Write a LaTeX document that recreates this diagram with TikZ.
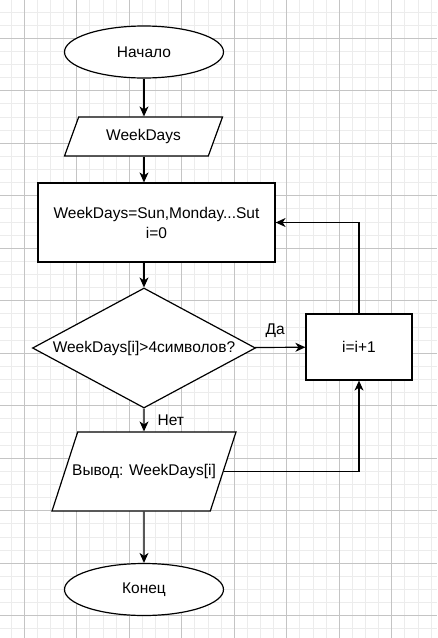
\documentclass[tikz,border=0pt]{standalone}
\usepackage{fontspec}
\setmainfont{Liberation Sans}
\usetikzlibrary{shapes.geometric,arrows.meta}

\definecolor{gridmajor}{RGB}{196,196,196}
\definecolor{gridminor}{RGB}{236,236,236}

\tikzset{
  term/.style={draw, ellipse, line width=1.2pt, fill=white, inner sep=0pt,
    minimum width=159pt, minimum height=52pt},
  io/.style={draw, trapezium, trapezium left angle=70, trapezium right angle=110,
    trapezium stretches body=true, line width=1.2pt, fill=white, inner xsep=0pt,
    text height=11pt, text depth=3pt},
  procbox/.style={draw, rectangle, line width=1.2pt, fill=white, inner sep=0pt, align=center},
  cond/.style={draw, diamond, aspect=1.86, line width=1.2pt, fill=white, inner sep=0pt,
    minimum width=223pt, minimum height=120pt},
  lbl/.style={inner sep=0pt},
  flow/.style={line width=1.2pt, -{Stealth[length=10pt,width=9pt,inset=3pt]}}
}

\begin{document}
\begin{tikzpicture}[x=1pt,y=-1pt,font=\fontsize{15.5}{20}\selectfont]
  \useasboundingbox[fill=white] (0,0) rectangle (437,638);
  % background grid
  \foreach \k in {-1,...,32}
    \draw[gridminor, line width=1pt] (24.3+13.125*\k,0) -- (24.3+13.125*\k,638);
  \foreach \k in {-3,...,46}
    \draw[gridminor, line width=1pt] (0,38.3+13.125*\k) -- (437,38.3+13.125*\k);
  \foreach \k in {0,...,7}
    \draw[gridmajor, line width=1pt] (24.3+52.5*\k,0) -- (24.3+52.5*\k,638);
  \foreach \k in {0,...,11}
    \draw[gridmajor, line width=1pt] (0,38.3+52.5*\k) -- (437,38.3+52.5*\k);

  \node[term] (start) at (144,52) {Начало};
  \node[io, inner ysep=12.5pt, minimum width=158pt] (inp) at (143.5,136.5) {WeekDays};
  \node[procbox, minimum width=237pt, minimum height=79pt] (init) at (156.5,222.5)
    {WeekDays=Sun,Monday...Sut\\i=0};
  \node[cond] (check) at (144,348) {WeekDays[i]>4символов?};
  \node[procbox, minimum width=106pt, minimum height=66pt] (inc) at (359,347) {i=i+1};
  % text runs a little into the slanted sides
  \node[io, trapezium left angle=72, trapezium right angle=108,
    inner ysep=32.5pt, inner xsep=-5.5pt] (out) at (144,471.5) {Вывод: WeekDays[i]};
  \node[term] (stop) at (144,589.5) {Конец};

  \draw[flow] (start) -- (start |- inp.north);
  \draw[flow] (start |- inp.south) -- (start |- init.north);
  \draw[flow] (start |- init.south) -- (check);
  \draw[flow] (check) -- node[lbl, pos=0.4, above=9pt] {Да} (inc);
  \draw[flow] (check) -- node[lbl, right=13pt] {Нет} (out);
  \draw[flow] (inc.north) |- (init.east);
  \draw[flow] (out.east) -| (inc.south);
  \draw[flow] (out) -- (stop);
\end{tikzpicture}
\end{document}
